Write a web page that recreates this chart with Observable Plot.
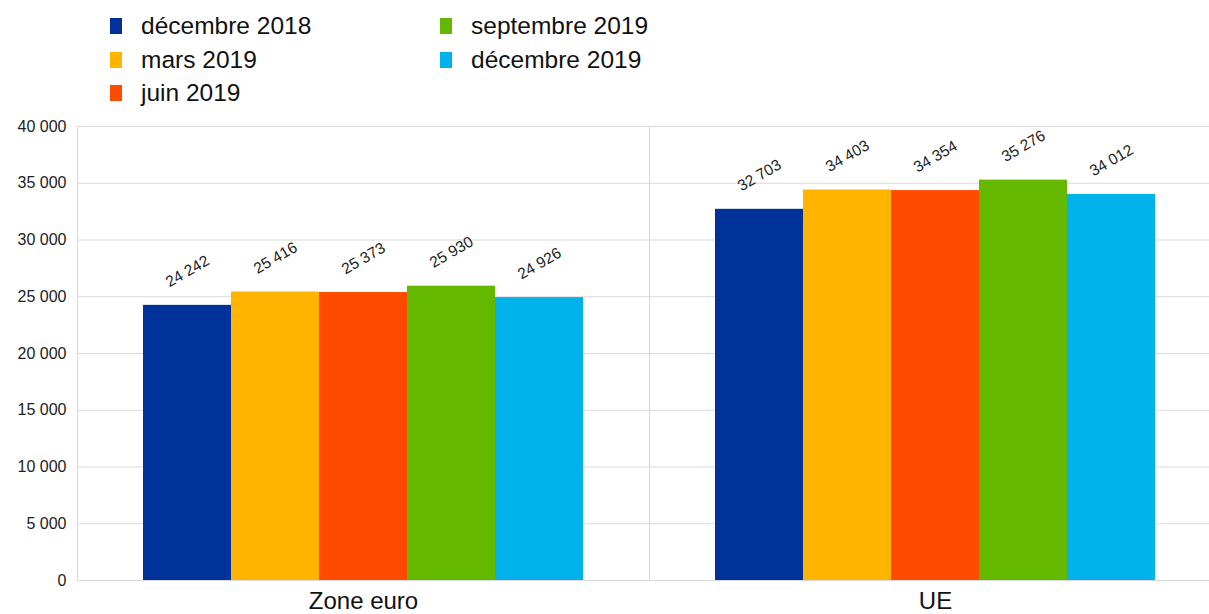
<!DOCTYPE html>
<html>
<head>
<meta charset="utf-8">
<script src="https://cdn.jsdelivr.net/npm/d3@7"></script>
<script src="https://cdn.jsdelivr.net/npm/@observablehq/plot@0.6"></script>
<style>
  html, body { margin: 0; padding: 0; background: #fff; overflow: hidden; }
  body { font-family: "Liberation Sans", Arial, sans-serif; }
  #legend { position: relative; width: 1209px; height: 110px; }
  .item { position: absolute; font-size: 24.5px; color: #111; line-height: 1; white-space: nowrap; }
  .sw { position: absolute; width: 12px; height: 16px; }
</style>
</head>
<body>
<div id="legend"></div>
<div id="chart"></div>
<script>
const groups = ["Zone euro", "UE"];
const periods = ["décembre 2018", "mars 2019", "juin 2019", "septembre 2019", "décembre 2019"];
const zoneEuroValues = [24242, 25416, 25373, 25930, 24926];
const ueValues = [32703, 34403, 34354, 35276, 34012];
const colors = ["#003299", "#FFB400", "#FF4B00", "#65B800", "#00B1EA"];
const yTicks = [0, 5000, 10000, 15000, 20000, 25000, 30000, 35000, 40000];

const rows = [];
periods.forEach((p, i) => rows.push({group: groups[0], period: p, value: zoneEuroValues[i]}));
periods.forEach((p, i) => rows.push({group: groups[1], period: p, value: ueValues[i]}));

const fmt = v => d3.format(",")(v).replace(/,/g, " ");

// Legend (two columns, column-major order)
const legendPos = [[0, 0], [0, 1], [0, 2], [1, 0], [1, 1]];
const legend = document.getElementById("legend");
periods.forEach((p, i) => {
  const [c, r] = legendPos[i];
  const x0 = c === 0 ? 110 : 440;
  const yc = 26 + r * 33.5;
  const sw = document.createElement("div");
  sw.className = "sw";
  sw.style.left = x0 + "px";
  sw.style.top = (yc - 8) + "px";
  sw.style.background = colors[i];
  legend.appendChild(sw);
  const t = document.createElement("div");
  t.className = "item";
  t.style.left = (x0 + 31) + "px";
  t.style.top = (yc - 12) + "px";
  t.textContent = p;
  legend.appendChild(t);
});

const chart = Plot.plot({
  width: 1209,
  height: 504,
  marginTop: 16,
  marginBottom: 34,
  marginLeft: 77,
  marginRight: 0,
  style: {fontFamily: '"Liberation Sans", Arial, sans-serif', color: "#222", background: "#fff"},
  fx: {domain: groups, padding: 0, range: [77, 1221], label: null},
  x: {domain: periods, paddingInner: 0, paddingOuter: 0.74, axis: null},
  y: {domain: [0, 40000], axis: null},
  color: {domain: periods, range: colors},
  marks: [
    Plot.ruleY(yTicks, {stroke: "#d9d9d9", strokeWidth: 1}),
    Plot.frame({anchor: "left", stroke: "#d9d9d9", strokeWidth: 1}),
    Plot.axisY(yTicks, {tickSize: 0, tickPadding: 11, fontSize: 16, tickFormat: fmt, label: null, fill: "#222"}),
    Plot.barY(rows, {fx: "group", x: "period", y: "value", fill: "period"}),
    Plot.text(rows, {fx: "group", x: "period", y: "value", text: d => fmt(d.value), dy: -34, rotate: -30, fontSize: 15.5, fill: "#222"}),
    Plot.axisFx({anchor: "bottom", tickSize: 0, tickPadding: 11, fontSize: 24, label: null, fill: "#111"})
  ]
});
document.getElementById("chart").appendChild(chart);
</script>
</body>
</html>
